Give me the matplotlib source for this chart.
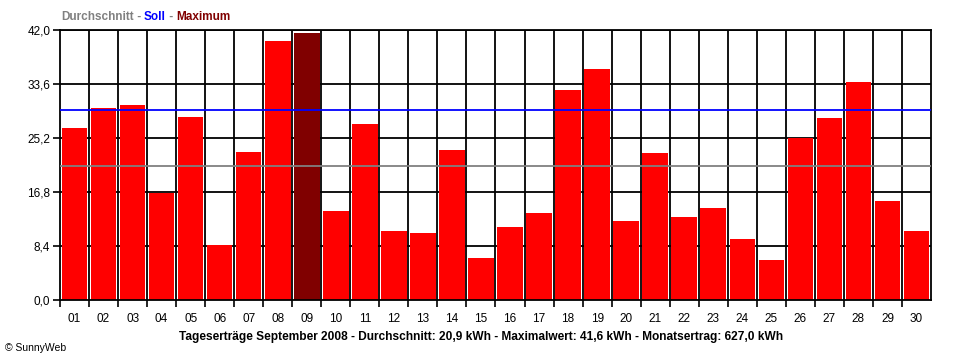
import numpy as np
import matplotlib
matplotlib.use('Agg')
import matplotlib.pyplot as plt

days = ['%02d' % d for d in range(1, 31)]
ertrag = [26.8, 29.9, 30.3, 16.6, 28.5, 8.5, 23.0, 40.3, 41.6, 13.8,
          27.4, 10.7, 10.4, 23.3, 6.5, 11.4, 13.5, 32.7, 35.9, 12.3,
          22.9, 12.9, 14.3, 9.5, 6.2, 25.2, 28.3, 33.9, 15.4, 10.7]
durchschnitt = 20.9
soll = 29.5
yticks = [0.0, 8.4, 16.8, 25.2, 33.6, 42.0]

plt.rcParams['font.family'] = ['Liberation Sans', 'DejaVu Sans']

fig = plt.figure(figsize=(9.6, 3.6), dpi=100)
ax = fig.add_axes([60 / 960, 60 / 360, 871 / 960, 270 / 360])

x = np.arange(len(days))
imax = int(np.argmax(ertrag))
colors = ['#ff0000'] * len(days)
colors[imax] = '#800000'
ax.bar(x, ertrag, width=0.88, color=colors, zorder=2)

ax.axhline(durchschnitt, color='#808080', lw=1.3, zorder=3)
ax.axhline(soll, color='#0000ff', lw=1.3, zorder=3)

ax.set_xlim(-0.5, len(days) - 0.5)
ax.set_ylim(0, 42)
ax.set_yticks(yticks)
ax.set_yticklabels([('%.1f' % v).replace('.', ',') for v in yticks], fontsize=8.5)
ax.set_xticks(x - 0.5, minor=False)
ax.set_xticklabels([])
ax.set_xticks(x, minor=True)
ax.set_xticklabels(days, minor=True, fontsize=8.5)
ax.tick_params(axis='x', which='major', length=5, width=1.2, color='black')
ax.tick_params(axis='x', which='minor', length=0, pad=9)
ax.tick_params(axis='y', length=5, width=1.2, pad=2)

for xv in np.arange(0.5, len(days) - 0.5):
    ax.axvline(xv, color='black', lw=1.3, zorder=1)
for yv in yticks[1:]:
    ax.axhline(yv, color='black', lw=1.3, zorder=1)
for s in ax.spines.values():
    s.set_color('black')
    s.set_linewidth(1.3)

# coloured header
parts = [('Durchschnitt', '#808080'), (' - ', '#808080'), ('Soll', '#0000ff'),
         (' - ', '#808080'), ('Maximum', '#800000')]
xpos = 61
r = fig.canvas.get_renderer()
for txt, col in parts:
    t = fig.text(xpos / 960, 1 - 17 / 360, txt, color=col, fontsize=8.5,
                 fontweight='bold', va='center', ha='left')
    bb = t.get_window_extent(renderer=r)
    xpos += bb.width

fig.text(481 / 960, 1 - 337 / 360,
         'Tageserträge September 2008 - Durchschnitt: 20,9 kWh - Maximalwert: 41,6 kWh - Monatsertrag: 627,0 kWh',
         ha='center', va='center', fontsize=8.6, fontweight='bold')
fig.text(5 / 960, 1 - 348 / 360, '© SunnyWeb', ha='left', va='center', fontsize=7.5)

fig.savefig('out.png', dpi=100)
